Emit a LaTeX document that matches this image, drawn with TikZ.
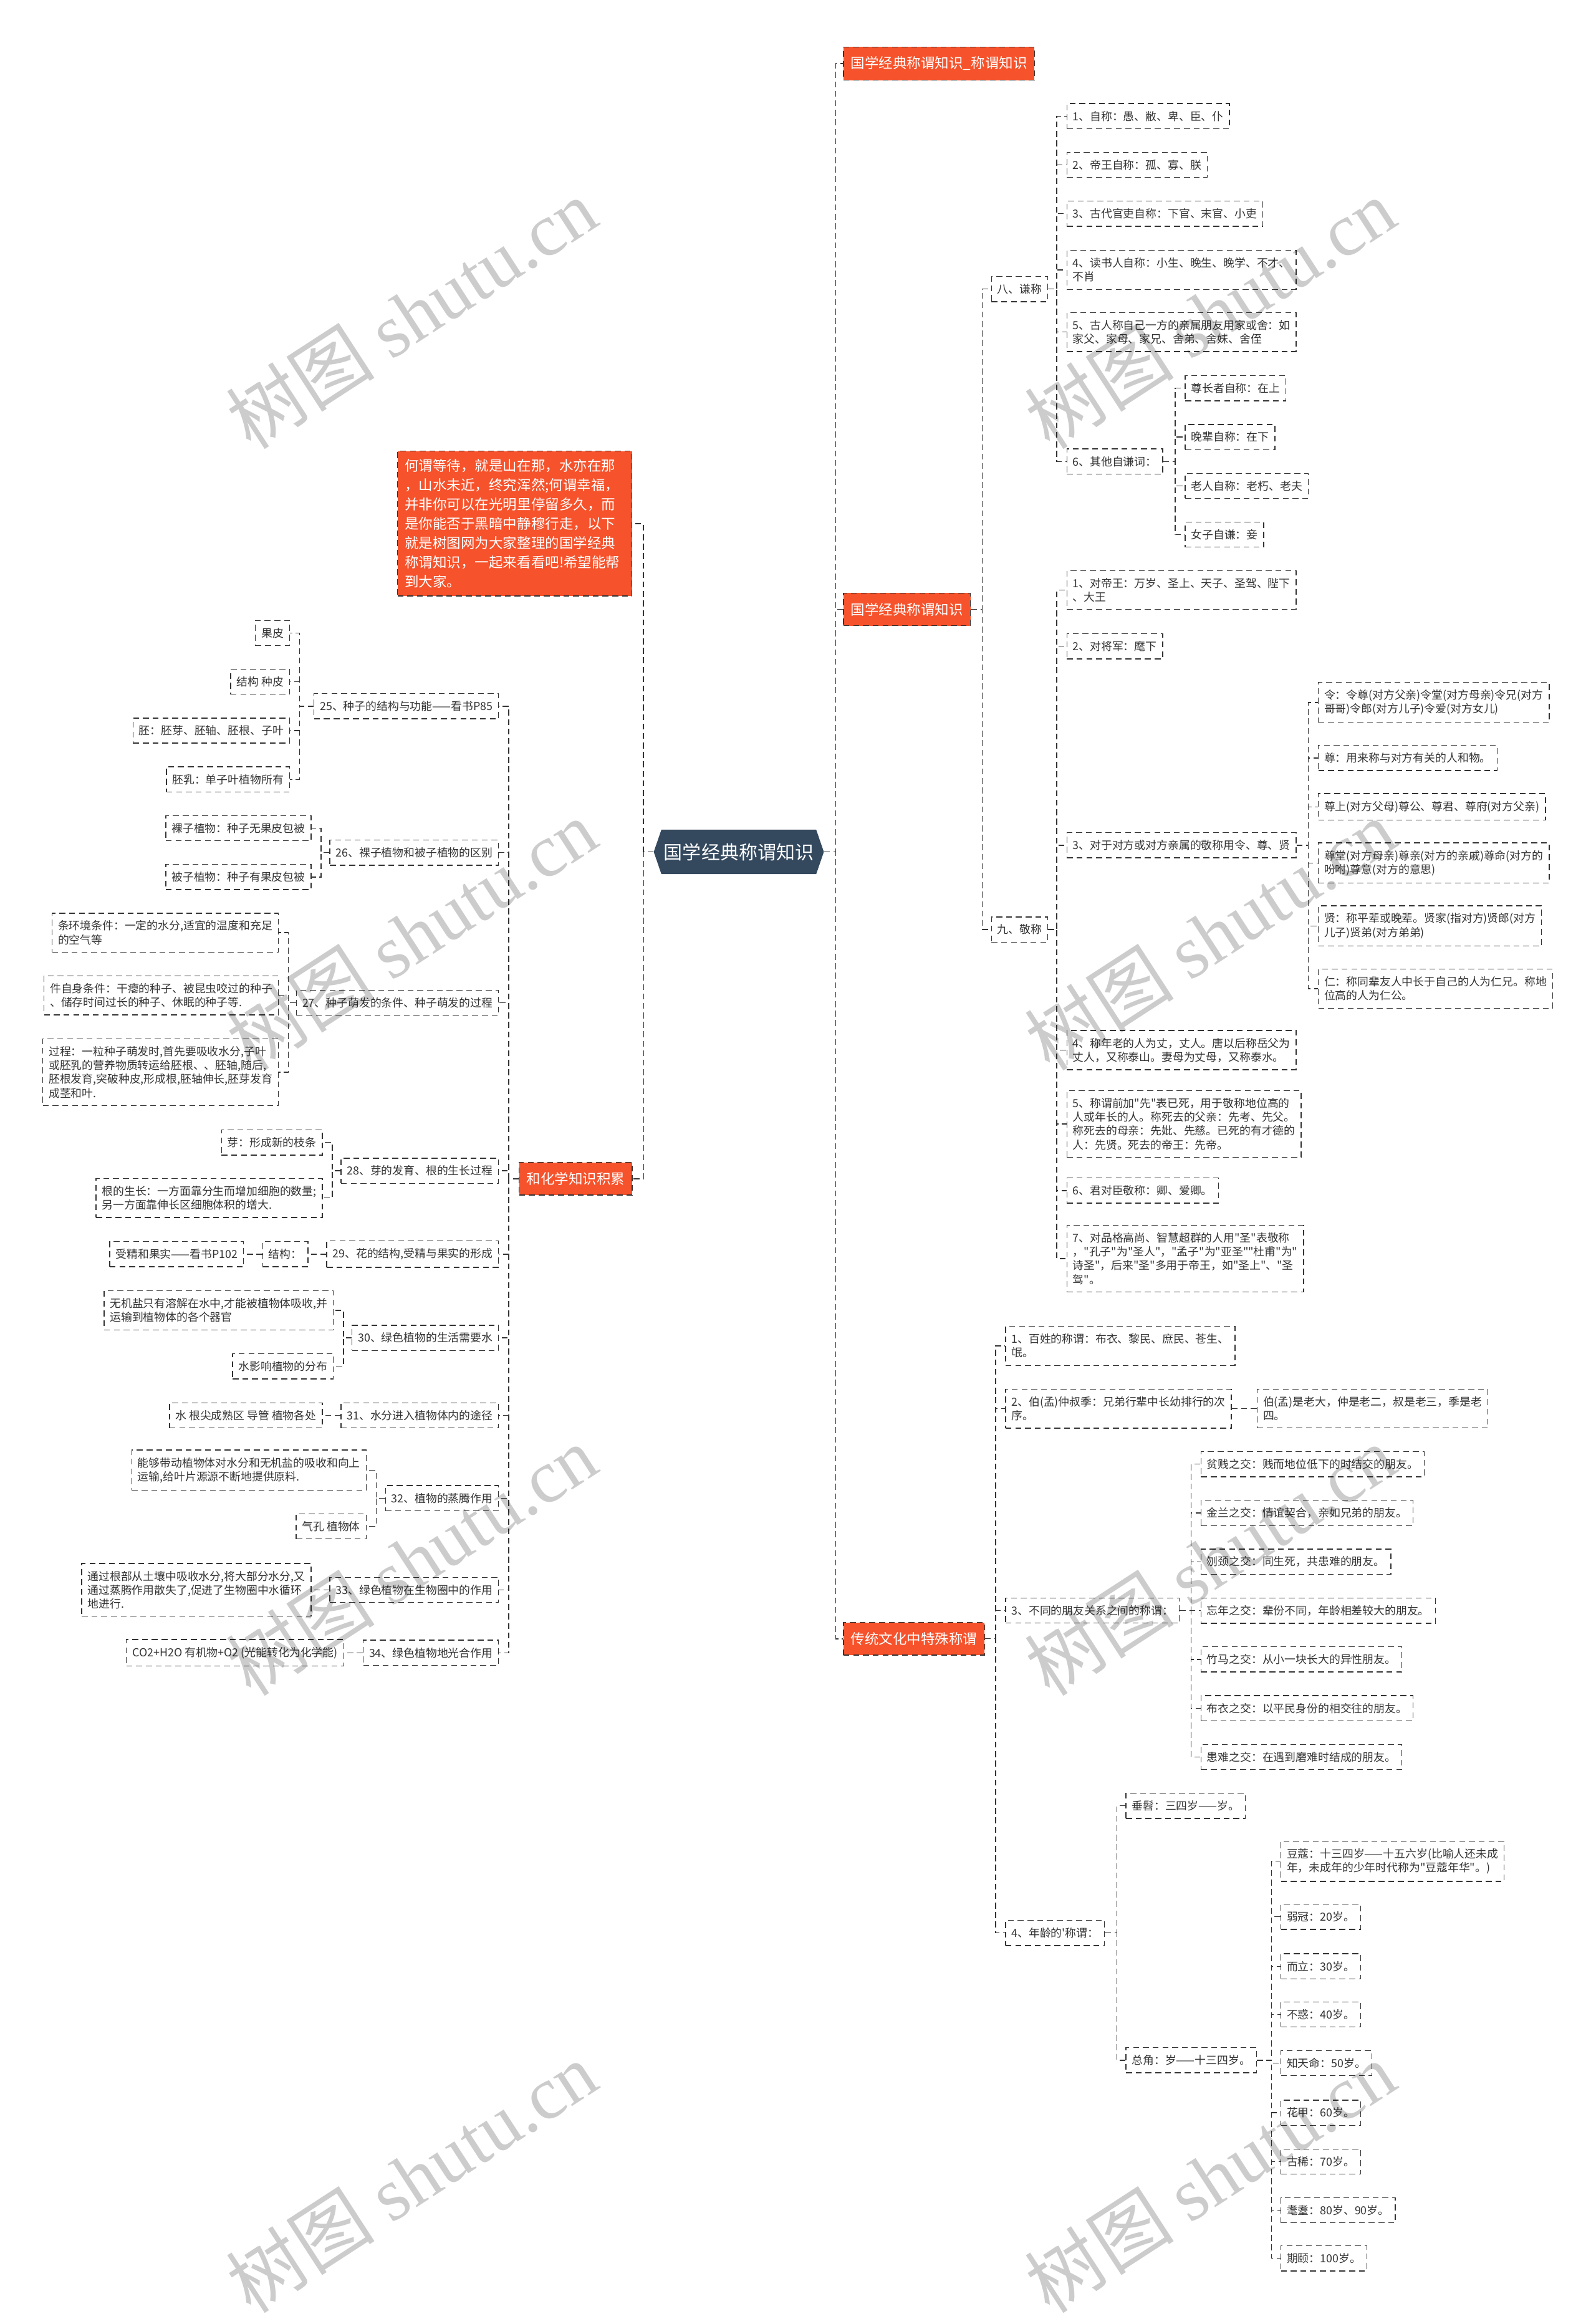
\documentclass[tikz,border=0pt]{standalone}
\usepackage{fontspec}
\setmainfont{Noto Sans CJK SC}
\newfontfamily\cjk{Noto Sans CJK SC}
\newfontfamily\wmlatin{Liberation Serif}
\usepackage{xcolor}
\usetikzlibrary{shapes.symbols}

\definecolor{hotorange}{HTML}{F6522B}
\definecolor{slate}{HTML}{34495E}
\definecolor{inkgray}{HTML}{333333}

\begin{document}
\begin{tikzpicture}[x=0.5mm, y=-0.5mm,
    link/.style={draw=inkgray, line width=0.8pt, dash pattern=on 2mm off 1.2mm},
    trunk/.style={link, line width=1.1pt},
    leaf/.style={draw=inkgray, line width=0.8pt, dash pattern=on 2mm off 1.3mm, fill=white, text=inkgray,
        align=left, font=\cjk\fontsize{10.7}{13.3}\selectfont, inner xsep=2mm, inner ysep=2.5mm},
    topic/.style={draw=inkgray, line width=0.8pt, dash pattern=on 2mm off 1.3mm, fill=hotorange, text=white,
        font=\cjk\fontsize{13.5}{18.6}\selectfont, inner xsep=2.5mm, inner ysep=3.3mm},
    root/.style={signal, signal to=west and east, signal pointer angle=142, fill=slate, text=white,
        font=\cjk\fontsize{18}{20}\selectfont, minimum width=57.5mm, minimum height=15mm, inner xsep=0.8mm},
    wmark/.style={rotate=33, text=black, text opacity=0.2, font=\cjk\fontsize{72}{72}\selectfont}
]
    \fill [white] (0,0) rectangle (1079,1568);
    \useasboundingbox (0,0) rectangle (1079,1568);

    % centre and main topics
    \node[root] (root) at (499.5,576) {国学经典称谓知识};
    \node[topic, anchor=west] (ttl) at (570,43) {国学经典称谓知识\_称谓知识};
    \node[topic, anchor=west] (gx) at (570,412) {国学经典称谓知识};
    \node[topic, anchor=west] (ct) at (570,1108) {传统文化中特殊称谓};
    \node[topic, anchor=east, text width=74.25mm, align=left, inner xsep=2.5mm, inner ysep=2.7mm] (note) at (427.5,354)
        {何谓等待，就是山在那，水亦在那\\，山水未近，终究浑然;何谓幸福，\\并非你可以在光明里停留多久，而\\是你能否于黑暗中静穆行走，以下\\就是树图网为大家整理的国学经典\\称谓知识，一起来看看吧!希望能帮\\到大家。};
    \node[topic, anchor=east] (hx) at (427.7,797) {和化学知识积累};

    % 八、谦称
    \node[leaf, anchor=west] (q8) at (670,195.5) {八、谦称};
    \node[leaf, anchor=west] (q8a) at (721,78.5) {1、自称：愚、敝、卑、臣、仆};
    \node[leaf, anchor=west] (q8b) at (721,111.5) {2、帝王自称：孤、寡、朕};
    \node[leaf, anchor=west] (q8c) at (721,144.5) {3、古代官吏自称：下官、末官、小吏};
    \node[leaf, anchor=west] (q8d) at (721,182.5) {4、读书人自称：小生、晚生、晚学、不才、\\不肖};
    \node[leaf, anchor=west] (q8e) at (721,224.5) {5、古人称自己一方的亲属朋友用家或舍：如\\家父、家母、家兄、舍弟、舍妹、舍侄};
    \node[leaf, anchor=west] (q8f) at (721,312) {6、其他自谦词：};
    \node[leaf, anchor=west] (q8f1) at (801,262.5) {尊长者自称：在上};
    \node[leaf, anchor=west] (q8f2) at (801,295.5) {晚辈自称：在下};
    \node[leaf, anchor=west] (q8f3) at (801,328.5) {老人自称：老朽、老夫};
    \node[leaf, anchor=west] (q8f4) at (801,361.5) {女子自谦：妾};

    % 九、敬称
    \node[leaf, anchor=west] (q9) at (670,628.5) {九、敬称};
    \node[leaf, anchor=west] (q9a) at (721,399) {1、对帝王：万岁、圣上、天子、圣驾、陛下\\、大王};
    \node[leaf, anchor=west] (q9b) at (721,437) {2、对将军：麾下};
    \node[leaf, anchor=west] (q9c) at (721,571.5) {3、对于对方或对方亲属的敬称用令、尊、贤};
    \node[leaf, anchor=west] (q9c1) at (891,475) {令：令尊(对方父亲)令堂(对方母亲)令兄(对方\\哥哥)令郎(对方儿子)令爱(对方女儿)};
    \node[leaf, anchor=west] (q9c2) at (891,512.5) {尊：用来称与对方有关的人和物。};
    \node[leaf, anchor=west] (q9c3) at (891,545.5) {尊上(对方父母)尊公、尊君、尊府(对方父亲)};
    \node[leaf, anchor=west] (q9c4) at (891,583.5) {尊堂(对方母亲)尊亲(对方的亲戚)尊命(对方的\\吩咐)尊意(对方的意思)};
    \node[leaf, anchor=west] (q9c5) at (891,626) {贤：称平辈或晚辈。贤家(指对方)贤郎(对方\\儿子)贤弟(对方弟弟)};
    \node[leaf, anchor=west] (q9c6) at (891,668.5) {仁：称同辈友人中长于自己的人为仁兄。称地\\位高的人为仁公。};
    \node[leaf, anchor=west] (q9d) at (721,710) {4、称年老的人为丈，丈人。唐以后称岳父为\\丈人，又称泰山。妻母为丈母，又称泰水。};
    \node[leaf, anchor=west] (q9e) at (721,760) {5、称谓前加"先"表已死，用于敬称地位高的\\人或年长的人。称死去的父亲：先考、先父。\\称死去的母亲：先妣、先慈。已死的有才德的\\人：先贤。死去的帝王：先帝。};
    \node[leaf, anchor=west] (q9f) at (721,805) {6、君对臣敬称：卿、爱卿。};
    \node[leaf, anchor=west] (q9g) at (721,851) {7、对品格高尚、智慧超群的人用"圣"表敬称\\，"孔子"为"圣人"，"孟子"为"亚圣""杜甫"为"\\诗圣"，后来"圣"多用于帝王，如"圣上"、"圣\\驾"。};

    % 传统文化中特殊称谓
    \node[leaf, anchor=west] (ct1) at (679.6,910) {1、百姓的称谓：布衣、黎民、庶民、苍生、\\氓。};
    \node[leaf, anchor=west] (ct2) at (679.6,952.5) {2、伯(孟)仲叔季：兄弟行辈中长幼排行的次\\序。};
    \node[leaf, anchor=west] (ct2a) at (849.7,952.5) {伯(孟)是老大，仲是老二，叔是老三，季是老\\四。};
    \node[leaf, anchor=west] (ct3) at (679.6,1089) {3、不同的朋友关系之间的称谓：};
    \node[leaf, anchor=west] (ct3a) at (811.7,990) {贫贱之交：贱而地位低下的时结交的朋友。};
    \node[leaf, anchor=west] (ct3b) at (811.7,1023) {金兰之交：情谊契合，亲如兄弟的朋友。};
    \node[leaf, anchor=west] (ct3c) at (811.7,1056) {刎颈之交：同生死，共患难的朋友。};
    \node[leaf, anchor=west] (ct3d) at (811.7,1089) {忘年之交：辈份不同，年龄相差较大的朋友。};
    \node[leaf, anchor=west] (ct3e) at (811.7,1122) {竹马之交：从小一块长大的异性朋友。};
    \node[leaf, anchor=west] (ct3f) at (811.7,1155) {布衣之交：以平民身份的相交往的朋友。};
    \node[leaf, anchor=west] (ct3g) at (811.7,1188) {患难之交：在遇到磨难时结成的朋友。};
    \node[leaf, anchor=west] (ct4) at (679.6,1307) {4、年龄的'称谓：};
    \node[leaf, anchor=west] (ct4a) at (761,1221) {垂髫：三四岁——岁。};
    \node[leaf, anchor=west] (ct4b) at (761,1393) {总角：岁——十三四岁。};
    \node[leaf, anchor=west] (ct4b1) at (865.7,1258.5) {豆蔻：十三四岁——十五六岁(比喻人还未成\\年，未成年的少年时代称为"豆蔻年华"。)};
    \node[leaf, anchor=west] (ct4b2) at (865.7,1296) {弱冠：20岁。};
    \node[leaf, anchor=west] (ct4b3) at (865.7,1329.5) {而立：30岁。};
    \node[leaf, anchor=west] (ct4b4) at (865.7,1362) {不惑：40岁。};
    \node[leaf, anchor=west] (ct4b5) at (865.7,1395) {知天命：50岁。};
    \node[leaf, anchor=west] (ct4b6) at (865.7,1428.5) {花甲：60岁。};
    \node[leaf, anchor=west] (ct4b7) at (865.7,1461.5) {古稀：70岁。};
    \node[leaf, anchor=west] (ct4b8) at (865.7,1494.5) {耄耋：80岁、90岁。};
    \node[leaf, anchor=west] (ct4b9) at (865.7,1527) {期颐：100岁。};

    % 和化学知识积累
    \node[leaf, anchor=east] (k25) at (337.4,477.5) {25、种子的结构与功能——看书P85};
    \node[leaf, anchor=east] (k25a) at (196,428) {果皮};
    \node[leaf, anchor=east] (k25b) at (196,461) {结构 种皮};
    \node[leaf, anchor=east] (k25c) at (196,494) {胚：胚芽、胚轴、胚根、子叶};
    \node[leaf, anchor=east] (k25d) at (196,527) {胚乳：单子叶植物所有};
    \node[leaf, anchor=east] (k26) at (337.4,576.5) {26、裸子植物和被子植物的区别};
    \node[leaf, anchor=east] (k26a) at (210.6,560) {裸子植物：种子无果皮包被};
    \node[leaf, anchor=east] (k26b) at (210.6,593) {被子植物：种子有果皮包被};
    \node[leaf, anchor=east] (k27) at (337.4,678) {27、种子萌发的条件、种子萌发的过程};
    \node[leaf, anchor=east] (k27a) at (188.5,630.6) {条环境条件：一定的水分,适宜的温度和充足\\的空气等};
    \node[leaf, anchor=east] (k27b) at (188.5,673) {件自身条件：干瘪的种子、被昆虫咬过的种子\\、储存时间过长的种子、休眠的种子等.};
    \node[leaf, anchor=east] (k27c) at (188.5,725) {过程：一粒种子萌发时,首先要吸收水分,子叶\\或胚乳的营养物质转运给胚根、、胚轴,随后,\\胚根发育,突破种皮,形成根,胚轴伸长,胚芽发育\\成茎和叶.};
    \node[leaf, anchor=east] (k28) at (337.4,791.6) {28、芽的发育、根的生长过程};
    \node[leaf, anchor=east] (k28a) at (218.2,772.5) {芽：形成新的枝条};
    \node[leaf, anchor=east] (k28b) at (218.2,810) {根的生长：一方面靠分生而增加细胞的数量;\\另一方面靠伸长区细胞体积的增大.};
    \node[leaf, anchor=east] (k29) at (337.4,848) {29、花的结构,受精与果实的形成};
    \node[leaf, anchor=east] (k29a) at (208.5,848) {结构：};
    \node[leaf, anchor=east] (k29b) at (165,848) {受精和果实——看书P102};
    \node[leaf, anchor=east] (k30) at (337.4,904.6) {30、绿色植物的生活需要水};
    \node[leaf, anchor=east] (k30a) at (225.7,886) {无机盐只有溶解在水中,才能被植物体吸收,并\\运输到植物体的各个器官};
    \node[leaf, anchor=east] (k30b) at (225.7,923.8) {水影响植物的分布};
    \node[leaf, anchor=east] (k31) at (337.4,957) {31、水分进入植物体内的途径};
    \node[leaf, anchor=east] (k31a) at (218.2,957) {水 根尖成熟区 导管 植物各处};
    \node[leaf, anchor=east] (k32) at (337.4,1013) {32、植物的蒸腾作用};
    \node[leaf, anchor=east] (k32a) at (247.8,994) {能够带动植物体对水分和无机盐的吸收和向上\\运输,给叶片源源不断地提供原料.};
    \node[leaf, anchor=east] (k32b) at (247.8,1032) {气孔 植物体};
    \node[leaf, anchor=east] (k33) at (337.4,1075) {33、绿色植物在生物圈中的作用};
    \node[leaf, anchor=east] (k33a) at (210.6,1075) {通过根部从土壤中吸收水分,将大部分水分,又\\通过蒸腾作用散失了,促进了生物圈中水循环\\地进行.};
    \node[leaf, anchor=east] (k34) at (337.4,1117.5) {34、绿色植物地光合作用};
    \node[leaf, anchor=east] (k34a) at (232.6,1117.5) {CO2+H2O 有机物+O2 (光能转化为化学能)};

    % connectors, right
    \draw[trunk] (root.east) -| ([xshift=-2.5mm]ttl.west) -- (ttl.west);
    \draw[trunk] (root.east) -| ([xshift=-2.5mm]gx.west) -- (gx.west);
    \draw[trunk] (root.east) -| ([xshift=-2.5mm]ct.west) -- (ct.west);
    \draw[link] (gx.east) -| ([xshift=-3mm]q8.west) -- (q8.west);
    \draw[link] (gx.east) -| ([xshift=-3mm]q9.west) -- (q9.west);
    \draw[link] (q8.east) -| ([xshift=-3.25mm]q8a.west) -- (q8a.west);
    \draw[link] (q8.east) -| ([xshift=-3.25mm]q8b.west) -- (q8b.west);
    \draw[link] (q8.east) -| ([xshift=-3.25mm]q8c.west) -- (q8c.west);
    \draw[link] (q8.east) -| ([xshift=-3.25mm]q8d.west) -- (q8d.west);
    \draw[link] (q8.east) -| ([xshift=-3.25mm]q8e.west) -- (q8e.west);
    \draw[link] (q8.east) -| ([xshift=-3.25mm]q8f.west) -- (q8f.west);
    \draw[link] (q8f.east) -| ([xshift=-3.25mm]q8f1.west) -- (q8f1.west);
    \draw[link] (q8f.east) -| ([xshift=-3.25mm]q8f2.west) -- (q8f2.west);
    \draw[link] (q8f.east) -| ([xshift=-3.25mm]q8f3.west) -- (q8f3.west);
    \draw[link] (q8f.east) -| ([xshift=-3.25mm]q8f4.west) -- (q8f4.west);
    \draw[link] (q9.east) -| ([xshift=-3.25mm]q9a.west) -- (q9a.west);
    \draw[link] (q9.east) -| ([xshift=-3.25mm]q9b.west) -- (q9b.west);
    \draw[link] (q9.east) -| ([xshift=-3.25mm]q9c.west) -- (q9c.west);
    \draw[link] (q9.east) -| ([xshift=-3.25mm]q9d.west) -- (q9d.west);
    \draw[link] (q9.east) -| ([xshift=-3.25mm]q9e.west) -- (q9e.west);
    \draw[link] (q9.east) -| ([xshift=-3.25mm]q9f.west) -- (q9f.west);
    \draw[link] (q9.east) -| ([xshift=-3.25mm]q9g.west) -- (q9g.west);
    \draw[link] (q9c.east) -| ([xshift=-3.25mm]q9c1.west) -- (q9c1.west);
    \draw[link] (q9c.east) -| ([xshift=-3.25mm]q9c2.west) -- (q9c2.west);
    \draw[link] (q9c.east) -| ([xshift=-3.25mm]q9c3.west) -- (q9c3.west);
    \draw[link] (q9c.east) -| ([xshift=-3.25mm]q9c4.west) -- (q9c4.west);
    \draw[link] (q9c.east) -| ([xshift=-3.25mm]q9c5.west) -- (q9c5.west);
    \draw[link] (q9c.east) -| ([xshift=-3.25mm]q9c6.west) -- (q9c6.west);
    \draw[link] (ct.east) -| ([xshift=-3.25mm]ct1.west) -- (ct1.west);
    \draw[link] (ct.east) -| ([xshift=-3.25mm]ct2.west) -- (ct2.west);
    \draw[link] (ct.east) -| ([xshift=-3.25mm]ct3.west) -- (ct3.west);
    \draw[link] (ct.east) -| ([xshift=-3.25mm]ct4.west) -- (ct4.west);
    \draw[link] (ct2.east) -- (ct2a.west);
    \draw[link] (ct3.east) -| ([xshift=-3.25mm]ct3a.west) -- (ct3a.west);
    \draw[link] (ct3.east) -| ([xshift=-3.25mm]ct3b.west) -- (ct3b.west);
    \draw[link] (ct3.east) -| ([xshift=-3.25mm]ct3c.west) -- (ct3c.west);
    \draw[link] (ct3.east) -| ([xshift=-3.25mm]ct3d.west) -- (ct3d.west);
    \draw[link] (ct3.east) -| ([xshift=-3.25mm]ct3e.west) -- (ct3e.west);
    \draw[link] (ct3.east) -| ([xshift=-3.25mm]ct3f.west) -- (ct3f.west);
    \draw[link] (ct3.east) -| ([xshift=-3.25mm]ct3g.west) -- (ct3g.west);
    \draw[link] (ct4.east) -| ([xshift=-3mm]ct4a.west) -- (ct4a.west);
    \draw[link] (ct4.east) -| ([xshift=-3mm]ct4b.west) -- (ct4b.west);
    \draw[link] (ct4b.east) -| ([xshift=-3mm]ct4b1.west) -- (ct4b1.west);
    \draw[link] (ct4b.east) -| ([xshift=-3mm]ct4b2.west) -- (ct4b2.west);
    \draw[link] (ct4b.east) -| ([xshift=-3mm]ct4b3.west) -- (ct4b3.west);
    \draw[link] (ct4b.east) -| ([xshift=-3mm]ct4b4.west) -- (ct4b4.west);
    \draw[link] (ct4b.east) -| ([xshift=-3mm]ct4b5.west) -- (ct4b5.west);
    \draw[link] (ct4b.east) -| ([xshift=-3mm]ct4b6.west) -- (ct4b6.west);
    \draw[link] (ct4b.east) -| ([xshift=-3mm]ct4b7.west) -- (ct4b7.west);
    \draw[link] (ct4b.east) -| ([xshift=-3mm]ct4b8.west) -- (ct4b8.west);
    \draw[link] (ct4b.east) -| ([xshift=-3mm]ct4b9.west) -- (ct4b9.west);

    % connectors, left
    \draw[trunk] (root.west) -| ([xshift=3.75mm]note.east) -- (note.east);
    \draw[trunk] (root.west) -| ([xshift=3.75mm]hx.east) -- (hx.east);
    \draw[link] (hx.west) -| ([xshift=3.25mm]k25.east) -- (k25.east);
    \draw[link] (hx.west) -| ([xshift=3.25mm]k26.east) -- (k26.east);
    \draw[link] (hx.west) -| ([xshift=3.25mm]k27.east) -- (k27.east);
    \draw[link] (hx.west) -| ([xshift=3.25mm]k28.east) -- (k28.east);
    \draw[link] (hx.west) -| ([xshift=3.25mm]k29.east) -- (k29.east);
    \draw[link] (hx.west) -| ([xshift=3.25mm]k30.east) -- (k30.east);
    \draw[link] (hx.west) -| ([xshift=3.25mm]k31.east) -- (k31.east);
    \draw[link] (hx.west) -| ([xshift=3.25mm]k32.east) -- (k32.east);
    \draw[link] (hx.west) -| ([xshift=3.25mm]k33.east) -- (k33.east);
    \draw[link] (hx.west) -| ([xshift=3.25mm]k34.east) -- (k34.east);
    \draw[link] (k25.west) -| ([xshift=3.25mm]k25a.east) -- (k25a.east);
    \draw[link] (k25.west) -| ([xshift=3.25mm]k25b.east) -- (k25b.east);
    \draw[link] (k25.west) -| ([xshift=3.25mm]k25c.east) -- (k25c.east);
    \draw[link] (k25.west) -| ([xshift=3.25mm]k25d.east) -- (k25d.east);
    \draw[link] (k26.west) -| ([xshift=3.25mm]k26a.east) -- (k26a.east);
    \draw[link] (k26.west) -| ([xshift=3.25mm]k26b.east) -- (k26b.east);
    \draw[link] (k27.west) -| ([xshift=3.25mm]k27a.east) -- (k27a.east);
    \draw[link] (k27.west) -| ([xshift=3.25mm]k27b.east) -- (k27b.east);
    \draw[link] (k27.west) -| ([xshift=3.25mm]k27c.east) -- (k27c.east);
    \draw[link] (k28.west) -| ([xshift=3.25mm]k28a.east) -- (k28a.east);
    \draw[link] (k28.west) -| ([xshift=3.25mm]k28b.east) -- (k28b.east);
    \draw[link] (k29.west) -- (k29a.east);
    \draw[link] (k29a.west) -- (k29b.east);
    \draw[link] (k30.west) -| ([xshift=3.25mm]k30a.east) -- (k30a.east);
    \draw[link] (k30.west) -| ([xshift=3.25mm]k30b.east) -- (k30b.east);
    \draw[link] (k31.west) -- (k31a.east);
    \draw[link] (k32.west) -| ([xshift=3.25mm]k32a.east) -- (k32a.east);
    \draw[link] (k32.west) -| ([xshift=3.25mm]k32b.east) -- (k32b.east);
    \draw[link] (k33.west) -- (k33a.east);
    \draw[link] (k34.west) -- (k34a.east);

    % watermark
    \node[wmark] (wm1) at (278,212) {树图 {\wmlatin shutu.cn}};
    \node[wmark] (wm2) at (818,212) {树图 {\wmlatin shutu.cn}};
    \node[wmark] (wm3) at (278,632) {树图 {\wmlatin shutu.cn}};
    \node[wmark] (wm4) at (818,632) {树图 {\wmlatin shutu.cn}};
    \node[wmark] (wm5) at (278,1055) {树图 {\wmlatin shutu.cn}};
    \node[wmark] (wm6) at (818,1055) {树图 {\wmlatin shutu.cn}};
    \node[wmark] (wm7) at (278,1472) {树图 {\wmlatin shutu.cn}};
    \node[wmark] (wm8) at (818,1472) {树图 {\wmlatin shutu.cn}};
\end{tikzpicture}
\end{document}
